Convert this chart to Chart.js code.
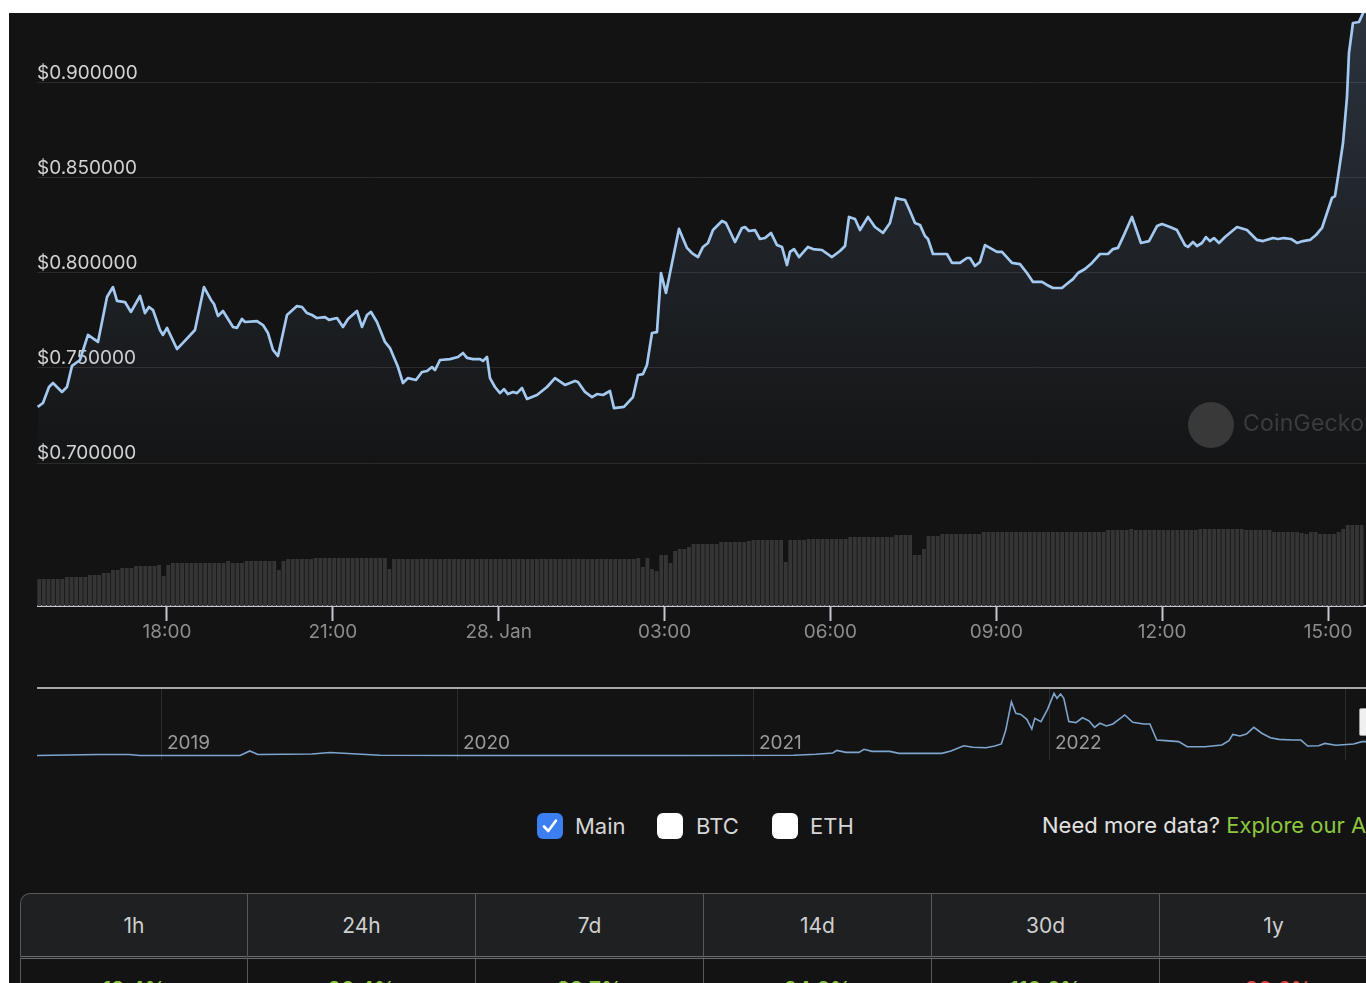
<!DOCTYPE html>
<html>
<head>
<meta charset="utf-8">
<script src="https://cdn.jsdelivr.net/npm/chart.js@4.4.1/dist/chart.umd.min.js"></script>
<style>
  html, body { margin:0; padding:0; width:1366px; height:983px; overflow:hidden; background:#ffffff; font-family: Inter, "Liberation Sans", sans-serif; }
  #panel { position:absolute; left:9px; top:13px; width:1357px; height:970px; background:#131313; }
  canvas { position:absolute; }
  #price { left:37px; top:13px; }
  #volume { left:37px; top:470px; }
  #nav { left:37px; top:680px; }
  .wm-circle { position:absolute; left:1188px; top:402px; width:46px; height:46px; border-radius:50%; background:#393939; }
  .wm-text { position:absolute; left:1243px; top:409px; font-size:23px; color:#3c3c3c; letter-spacing:0.2px; white-space:nowrap; }
  .handle { position:absolute; left:1359px; top:708px; width:12px; height:28px; background:#f0f0f0; border:1px solid #9a9a9a; border-radius:2px; box-sizing:border-box; }
  .cb { position:absolute; top:813px; width:26px; height:26px; border-radius:6px; background:#ffffff; box-sizing:border-box; }
  .cb.on { background:#3b7ff2; }
  .cb svg { position:absolute; left:3px; top:3px; }
  .lt { position:absolute; top:812px; font-size:22px; color:#d6d6d6; line-height:28px; }
  .more { position:absolute; left:1042px; top:811px; font-size:22px; color:#e2e2e2; line-height:28px; white-space:nowrap; }
  .more span { color:#8cc63f; }
  #perf { position:absolute; left:20px; top:893px; width:1368px; table-layout:fixed; border-collapse:separate; border-spacing:0; }
  #perf th { height:62px; background:#1f2022; color:#cfcfcf; font-weight:400; font-size:21px; border-top:1.5px solid #585858; border-right:1.5px solid #585858; border-bottom:3px double #6a6a6a; padding:0; }
  #perf th:first-child { border-left:1.5px solid #585858; border-top-left-radius:10px; }
  #perf td { height:40px; text-align:center; vertical-align:top; padding-top:18px; font-size:21px; font-weight:600; border-right:1.5px solid #585858; }
  #perf td:first-child { border-left:1.5px solid #585858; }
  #perf td.up { color:#8cc63f; }
  #perf td.down { color:#e0453c; }
</style>
</head>
<body>
<div id="panel"></div>
<canvas id="price" width="1329" height="457"></canvas>
<canvas id="volume" width="1329" height="190"></canvas>
<canvas id="nav" width="1329" height="80"></canvas>

<div class="wm-circle"></div>
<div class="wm-text">CoinGecko</div>
<div class="handle"></div>

<div class="cb on" style="left:537px;"><svg width="20" height="20" viewBox="0 0 20 20"><path d="M4 10.5 L8.3 15 L16 4.5" fill="none" stroke="#fff" stroke-width="2.6" stroke-linecap="round" stroke-linejoin="round"/></svg></div>
<div class="lt" style="left:575px;">Main</div>
<div class="cb" style="left:657px;"></div>
<div class="lt" style="left:696px;">BTC</div>
<div class="cb" style="left:772px;"></div>
<div class="lt" style="left:810px;">ETH</div>
<div class="more">Need more data? <span>Explore our API</span></div>

<table id="perf">
  <tr id="perfHead"></tr>
  <tr id="perfVals"></tr>
</table>

<script>
// ---------- DATA ----------
// 24h price series: time in hours since 27 Jan 00:00, price in USD
const priceHours = [
15.661,15.757,15.866,15.938,16.101,16.191,16.282,16.426,16.571,16.752,16.915,17.023,17.096,17.240,17.349,17.512,17.602,17.674,17.747,17.873,
17.928,18.000,18.181,18.289,18.506,18.669,18.796,18.850,18.922,19.013,19.194,19.266,19.356,19.411,19.628,19.736,19.827,19.917,20.008,20.170,
20.351,20.442,20.532,20.623,20.713,20.858,20.930,21.075,21.183,21.274,21.436,21.527,21.617,21.690,21.798,21.943,22.033,22.178,22.268,22.359,
22.503,22.612,22.703,22.793,22.847,22.938,23.118,23.263,23.354,23.426,23.534,23.661,23.715,23.788,23.842,23.932,24.023,24.095,24.167,24.258,
24.330,24.421,24.511,24.692,24.873,25.018,25.198,25.379,25.434,25.560,25.687,25.777,25.886,26.012,26.085,26.265,26.428,26.519,26.609,26.681,
26.772,26.862,26.935,27.025,27.134,27.260,27.405,27.495,27.604,27.694,27.785,27.875,28.038,28.110,28.273,28.400,28.454,28.526,28.635,28.725,
28.816,28.924,29.033,29.123,29.214,29.268,29.340,29.431,29.593,29.684,29.846,30.027,30.172,30.263,30.335,30.444,30.534,30.679,30.805,30.950,
31.076,31.185,31.257,31.348,31.438,31.529,31.619,31.709,31.764,31.854,32.107,32.198,32.342,32.469,32.523,32.614,32.704,32.795,33.012,33.102,
33.283,33.428,33.554,33.663,33.826,33.916,34.025,34.187,34.296,34.386,34.477,34.603,34.730,34.875,35.019,35.110,35.200,35.291,35.453,35.616,
35.761,35.906,35.996,36.141,36.267,36.412,36.466,36.557,36.629,36.719,36.792,36.864,36.936,37.027,37.136,37.353,37.533,37.714,37.823,38.004,
38.094,38.203,38.329,38.438,38.546,38.673,38.781,38.890,38.980,39.071,39.125,39.179,39.270,39.342,39.378,39.450,39.559,39.631,39.690
];
const priceUsd = [
0.7295,0.7316,0.7400,0.7421,0.7374,0.7400,0.7511,0.7542,0.7674,0.7637,0.7874,0.7926,0.7853,0.7847,0.7795,0.7879,0.7789,0.7821,0.7805,0.7700,
0.7674,0.7711,0.7600,0.7632,0.7700,0.7926,0.7858,0.7837,0.7774,0.7800,0.7716,0.7711,0.7758,0.7742,0.7747,0.7726,0.7684,0.7595,0.7563,0.7779,
0.7826,0.7821,0.7789,0.7779,0.7763,0.7768,0.7753,0.7763,0.7716,0.7758,0.7800,0.7716,0.7779,0.7795,0.7742,0.7637,0.7605,0.7505,0.7421,0.7447,
0.7437,0.7479,0.7484,0.7505,0.7489,0.7542,0.7547,0.7558,0.7579,0.7553,0.7547,0.7547,0.7537,0.7558,0.7447,0.7400,0.7368,0.7389,0.7363,0.7374,
0.7368,0.7395,0.7337,0.7358,0.7400,0.7447,0.7411,0.7432,0.7426,0.7374,0.7347,0.7363,0.7358,0.7379,0.7289,0.7295,0.7347,0.7463,0.7468,0.7516,
0.7684,0.7689,0.8000,0.7895,0.8053,0.8232,0.8132,0.8105,0.8084,0.8137,0.8158,0.8226,0.8274,0.8263,0.8163,0.8237,0.8242,0.8221,0.8226,0.8179,
0.8184,0.8211,0.8147,0.8137,0.8042,0.8111,0.8126,0.8084,0.8137,0.8126,0.8121,0.8084,0.8116,0.8142,0.8295,0.8284,0.8226,0.8295,0.8242,0.8211,
0.8263,0.8395,0.8389,0.8384,0.8326,0.8263,0.8253,0.8195,0.8179,0.8100,0.8100,0.8053,0.8053,0.8079,0.8079,0.8037,0.8058,0.8147,0.8111,0.8111,
0.8053,0.8047,0.8000,0.7953,0.7953,0.7937,0.7921,0.7921,0.7947,0.7968,0.8000,0.8021,0.8053,0.8100,0.8100,0.8126,0.8132,0.8189,0.8295,0.8158,
0.8168,0.8247,0.8258,0.8242,0.8226,0.8147,0.8137,0.8163,0.8142,0.8158,0.8189,0.8168,0.8184,0.8158,0.8189,0.8242,0.8226,0.8174,0.8168,0.8184,
0.8179,0.8184,0.8179,0.8158,0.8168,0.8174,0.8200,0.8237,0.8316,0.8395,0.8405,0.8505,0.8684,0.8926,0.9158,0.9316,0.9321,0.9368,0.9420
];
// 5-minute volume bars (millions USD, rolling), first bar at volStartHour
const volStartHour = 15.69;
const volStepHours = 5 / 60;
const volume = [
27,27,27,27,27,27,29,29,29,29,29,31,31,31,33,33,36,36,38,38,38,40,40,40,
40,40,41,30,41,43,43,43,43,43,43,43,43,43,43,43,43,45,43,43,43,45,45,45,
45,45,45,45,36,45,47,47,47,47,47,47,48,48,48,48,48,48,48,48,48,48,48,48,
48,48,48,48,37,47,47,47,47,47,47,47,47,47,47,47,47,47,47,47,47,47,47,47,
47,47,47,47,47,47,47,47,47,47,47,47,47,47,47,47,47,47,47,47,47,47,47,47,
47,47,47,47,47,47,47,47,47,47,48,39,48,37,35,51,51,43,55,57,57,59,62,62,
62,62,62,62,64,64,64,64,64,64,65,66,66,66,66,66,66,66,44,66,66,66,66,67,
67,67,67,67,67,67,67,67,69,69,69,69,69,69,69,69,69,69,71,71,71,71,51,51,
57,70,70,70,72,72,72,72,72,72,72,72,72,74,74,74,74,74,74,74,74,74,74,74,
74,74,74,74,74,74,74,74,74,74,74,74,74,74,74,74,76,76,76,76,76,77,76,76,
76,76,76,76,76,76,76,76,76,76,76,76,77,77,77,77,77,77,77,77,77,77,76,76,
76,76,76,76,74,74,74,74,74,74,73,72,74,74,72,72,72,72,74,77,81,81,81,81
];
// axis ticks
const priceTicks = [0.70, 0.75, 0.80, 0.85, 0.90];
const timeTickHours = [18, 21, 24, 27, 30, 33, 36, 39];
const timeTickLabels = ['18:00', '21:00', '28. Jan', '03:00', '06:00', '09:00', '12:00', '15:00'];
// navigator: full history (year fraction, USD)
const navYears = [
2018.578,2018.784,2018.889,2018.926,2019.264,2019.297,2019.324,2019.507,2019.568,2019.659,2019.736,2020.040,2020.750,2021.135,2021.209,2021.267,
2021.280,2021.311,2021.355,2021.372,2021.399,2021.459,2021.490,2021.635,2021.666,2021.709,2021.740,2021.784,2021.814,2021.836,2021.851,2021.870,
2021.885,2021.902,2021.922,2021.939,2021.949,2021.970,2021.992,2022.014,2022.024,2022.036,2022.047,2022.064,2022.088,2022.110,2022.132,2022.151,
2022.169,2022.191,2022.213,2022.253,2022.280,2022.317,2022.338,2022.361,2022.391,2022.435,2022.464,2022.524,2022.581,2022.605,2022.618,2022.642,
2022.664,2022.689,2022.716,2022.745,2022.774,2022.819,2022.848,2022.871,2022.908,2022.929,2022.966,2023.026,2023.054,2023.068
];
const navUsd = [
0.03,0.10,0.10,0.03,0.03,0.35,0.10,0.14,0.24,0.14,0.05,0.03,0.03,0.05,0.12,0.21,
0.39,0.25,0.25,0.46,0.32,0.32,0.18,0.18,0.34,0.71,0.60,0.57,0.69,0.83,1.79,3.74,
2.94,2.87,2.53,1.86,2.60,2.37,3.22,4.32,3.98,4.28,3.98,2.37,2.30,2.64,2.43,1.98,
2.26,2.07,2.21,2.83,2.33,2.21,2.21,1.10,1.06,0.99,0.64,0.64,0.76,1.06,1.49,1.38,
1.52,1.98,1.57,1.26,1.15,1.10,1.10,0.69,0.71,0.87,0.74,0.83,0.99,0.99
];
const navTickYears = [2019, 2020, 2021, 2022, 2023];
const navTickLabels = ['2019', '2020', '2021', '2022', ''];
// performance table
const perfPeriods = ['1h', '24h', '7d', '14d', '30d', '1y'];
const perfChange = [13.4, 26.4, 28.7, 34.0, 110.6, -30.6];

// ---------- CHARTS ----------
const X_MIN = 15.649, X_MAX = 39.686;
const FONT = 'Inter, "Liberation Sans", sans-serif';
Chart.defaults.font.family = FONT;

const common = {
  responsive: false, animation: false, events: [],
  plugins: { legend: { display: false }, tooltip: { enabled: false } }
};
function noPad(s) { s.paddingTop = 0; s.paddingBottom = 0; s.paddingLeft = 0; s.paddingRight = 0; }

new Chart(document.getElementById('price'), {
  type: 'line',
  data: { datasets: [{
    data: priceHours.map((h, i) => ({ x: h, y: priceUsd[i] })),
    borderColor: '#a4c9f1', borderWidth: 2.7, pointRadius: 0, tension: 0,
    borderJoinStyle: 'round',
    fill: { value: 0.70 },
    backgroundColor: (c) => {
      const { ctx, chartArea } = c.chart;
      if (!chartArea) return 'rgba(0,0,0,0)';
      const g = ctx.createLinearGradient(0, chartArea.top, 0, chartArea.bottom);
      g.addColorStop(0, 'rgba(140,180,230,0.20)');
      g.addColorStop(1, 'rgba(140,180,230,0.01)');
      return g;
    }
  }]},
  options: Object.assign({}, common, {
    layout: { padding: 0 },
    scales: {
      x: { type: 'linear', min: X_MIN, max: X_MAX, display: false },
      y: {
        min: 0.70 - 7 / 1900, max: 0.70 + 450 / 1900,
        afterBuildTicks: (ax) => { ax.ticks = priceTicks.map(v => ({ value: v })); },
        afterFit: (s) => { s.width = 0; noPad(s); },
        grid: { color: '#2a2a2a', lineWidth: 1, drawTicks: false },
        border: { display: false },
        ticks: { mirror: true, padding: 0, labelOffset: -10, color: '#d2d2d2',
                 font: { size: 19 }, callback: (v) => '$' + Number(v).toFixed(6) }
      }
    }
  })
});

new Chart(document.getElementById('volume'), {
  type: 'bar',
  data: { datasets: [{
    data: volume.map((v, i) => ({ x: volStartHour + i * volStepHours, y: v })),
    backgroundColor: '#353535', borderWidth: 0,
    barPercentage: 0.84, categoryPercentage: 1
  }]},
  options: Object.assign({}, common, {
    layout: { padding: 0 },
    scales: {
      x: {
        type: 'linear', min: X_MIN, max: X_MAX, offset: false, z: 1,
        afterBuildTicks: (ax) => { ax.ticks = timeTickHours.map(v => ({ value: v })); },
        afterFit: (s) => { s.height = 54; noPad(s); },
        grid: { offset: false, drawOnChartArea: false, drawTicks: true, tickLength: 15, tickColor: '#c4c7cd', tickWidth: 2 },
        border: { display: true, color: '#c4c7cd', width: 2 },
        ticks: { autoSkip: false, maxRotation: 0, padding: 0, color: '#8c8c8c',
                 font: { size: 19 }, callback: (v, i) => timeTickLabels[i] }
      },
      y: { display: false, min: 0, max: 136 }
    }
  })
});

new Chart(document.getElementById('nav'), {
  type: 'line',
  data: { datasets: [{
    data: navYears.map((t, i) => ({ x: t, y: navUsd[i] })),
    borderColor: '#7ea5ce', borderWidth: 1.6, pointRadius: 0, tension: 0, fill: false
  }]},
  options: Object.assign({}, common, {
    layout: { padding: { top: 8 } },
    scales: {
      x: {
        type: 'linear', min: 2018.578, max: 2023.068, position: 'bottom',
        afterBuildTicks: (ax) => { ax.ticks = navTickYears.map(v => ({ value: v })); },
        afterFit: (s) => { s.height = 0; noPad(s); },
        grid: { color: '#2c2c2c', drawTicks: false },
        border: { display: false },
        ticks: { autoSkip: false, maxRotation: 0, mirror: true, align: 'start', padding: 5, labelOffset: 5,
                 color: '#9a9a9a', font: { size: 19 }, callback: (v, i) => navTickLabels[i] }
      },
      x2: {
        type: 'linear', min: 2018.578, max: 2023.068, position: 'top',
        afterFit: (s) => { s.height = 0; noPad(s); },
        grid: { display: false, drawTicks: false },
        ticks: { display: false },
        border: { display: true, color: '#a8a8a8', width: 2 }
      },
      y: { display: false, min: -0.276, max: 4.692 }
    }
  })
});

// ---------- TABLE ----------
const head = document.getElementById('perfHead');
const vals = document.getElementById('perfVals');
perfPeriods.forEach((p, i) => {
  const th = document.createElement('th'); th.textContent = p; head.appendChild(th);
  const td = document.createElement('td');
  const v = perfChange[i];
  td.textContent = (v < 0 ? '-' : '') + Math.abs(v).toFixed(1) + '%';
  td.className = v < 0 ? 'down' : 'up';
  vals.appendChild(td);
});
</script>
</body>
</html>
